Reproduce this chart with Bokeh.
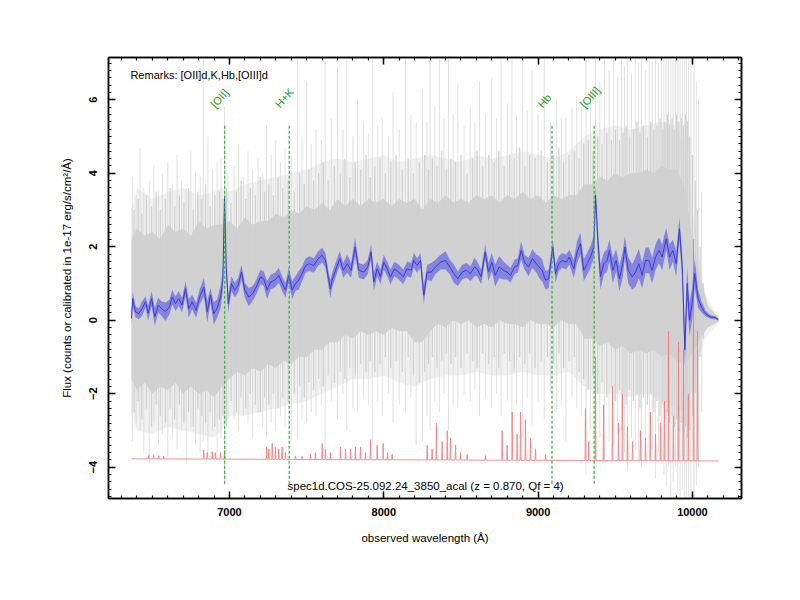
import numpy as np
from bokeh.plotting import figure
from bokeh.models import Range1d, LinearAxis, SingleIntervalTicker, Label, ColumnDataSource, CustomJSTickFormatter
from bokeh.core.properties import value
from bokeh.embed import file_html
from bokeh.resources import INLINE

# ---------------- data ----------------
blue_wl = [6365, 6373, 6391, 6412, 6434, 6456, 6473, 6495, 6516, 6538,
           6559, 6585, 6611, 6629, 6650, 6671, 6693, 6715, 6736, 6758,
           6784, 6806, 6834, 6856, 6877, 6898, 6920, 6942, 6957, 6968,
           6979, 6992, 7013, 7034, 7056, 7078, 7099, 7125, 7151, 7173,
           7201, 7222, 7244, 7266, 7294, 7320, 7341, 7363, 7384, 7406,
           7428, 7449, 7471, 7493, 7518, 7546, 7575, 7601, 7622, 7643,
           7654, 7665, 7687, 7715, 7737, 7763, 7788, 7814, 7838, 7870,
           7896, 7918, 7935, 7957, 7978, 8000, 8022, 8043, 8069, 8097,
           8126, 8151, 8177, 8194, 8216, 8238, 8259, 8281, 8307, 8335,
           8367, 8400, 8428, 8454, 8480, 8508, 8536, 8562, 8588, 8605,
           8631, 8657, 8678, 8700, 8722, 8748, 8774, 8799, 8821, 8847,
           8868, 8890, 8912, 8938, 8963, 8989, 9007, 9026, 9048, 9069,
           9095, 9113, 9134, 9156, 9182, 9203, 9231, 9253, 9274, 9296,
           9318, 9339, 9361, 9372, 9387, 9404, 9426, 9447, 9462, 9484,
           9506, 9527, 9549, 9562, 9584, 9610, 9631, 9653, 9674, 9696,
           9718, 9739, 9761, 9783, 9804, 9830, 9852, 9873, 9895, 9916,
           9934, 9951, 9966, 9981, 9998, 10015, 10037, 10059, 10085, 10117,
           10149, 10167]
blue_flux = [0.05, 0.59, 0.23, 0.18, 0.32, 0.50, 0.19, 0.59, 0.09, 0.41,
             0.32, 0.23, 0.36, 0.63, 0.45, 0.59, 0.41, 0.86, 0.32, 0.50,
             0.27, 0.63, 0.90, 0.23, 0.68, 0.18, 0.32, 0.63, 1.09, 3.35,
             1.45, 0.45, 1.00, 0.82, 0.95, 1.31, 0.82, 0.63, 0.73, 0.90,
             1.18, 1.13, 0.82, 1.04, 1.09, 1.22, 1.00, 0.82, 1.22, 0.82,
             1.00, 1.09, 1.27, 1.49, 1.54, 1.49, 1.68, 1.77, 1.63, 1.09,
             0.85, 1.09, 1.36, 1.68, 1.36, 1.54, 1.36, 1.99, 1.36, 1.31,
             1.45, 1.86, 1.04, 1.40, 1.18, 1.58, 1.40, 1.18, 1.40, 1.31,
             1.18, 1.40, 1.36, 1.63, 1.49, 1.63, 0.68, 1.31, 1.31, 1.45,
             1.58, 1.63, 1.45, 1.27, 1.13, 1.31, 1.36, 1.27, 1.45, 1.40,
             1.18, 1.86, 1.31, 1.58, 1.22, 1.45, 1.36, 1.31, 1.22, 1.45,
             1.49, 1.90, 1.58, 1.45, 1.68, 1.54, 1.45, 1.36, 1.09, 1.13,
             1.99, 1.27, 1.54, 1.63, 1.58, 1.72, 1.40, 1.86, 2.08, 1.36,
             1.54, 1.72, 1.99, 3.40, 2.17, 1.18, 1.54, 1.63, 1.90, 1.36,
             1.63, 1.13, 1.54, 1.99, 1.36, 1.18, 1.31, 1.54, 1.22, 1.63,
             1.63, 1.36, 1.72, 1.90, 1.72, 2.22, 1.72, 1.90, 1.54, 2.49,
             1.45, -0.80, 1.00, 0.00, 0.45, 1.27, 0.59, 0.36, 0.18, 0.09,
             0.07, 0.02]
blue_err = [0.15, 0.2, 0.15, 0.15, 0.2, 0.15, 0.2, 0.2, 0.25, 0.2,
            0.2, 0.25, 0.2, 0.2, 0.2, 0.2, 0.2, 0.2, 0.25, 0.2,
            0.2, 0.2, 0.25, 0.3, 0.2, 0.3, 0.25, 0.3, 0.3, 0.2,
            0.2, 0.25, 0.2, 0.2, 0.2, 0.2, 0.2, 0.25, 0.2, 0.2,
            0.2, 0.2, 0.25, 0.2, 0.2, 0.2, 0.2, 0.2, 0.2, 0.25,
            0.2, 0.25, 0.2, 0.2, 0.2, 0.2, 0.2, 0.2, 0.2, 0.2,
            0.25, 0.2, 0.2, 0.2, 0.2, 0.25, 0.2, 0.25, 0.2, 0.2,
            0.2, 0.2, 0.25, 0.2, 0.2, 0.2, 0.2, 0.2, 0.2, 0.2,
            0.2, 0.2, 0.2, 0.2, 0.2, 0.2, 0.25, 0.2, 0.25, 0.2,
            0.2, 0.25, 0.2, 0.25, 0.2, 0.2, 0.2, 0.2, 0.25, 0.2,
            0.2, 0.2, 0.25, 0.25, 0.3, 0.3, 0.25, 0.2, 0.2, 0.2,
            0.2, 0.25, 0.2, 0.25, 0.25, 0.25, 0.3, 0.3, 0.25, 0.25,
            0.2, 0.25, 0.2, 0.2, 0.2, 0.2, 0.25, 0.3, 0.3, 0.3,
            0.3, 0.3, 0.3, 0.25, 0.35, 0.35, 0.3, 0.3, 0.3, 0.35,
            0.3, 0.35, 0.35, 0.3, 0.35, 0.35, 0.4, 0.4, 0.35, 0.35,
            0.35, 0.35, 0.35, 0.35, 0.35, 0.3, 0.35, 0.3, 0.35, 0.3,
            0.35, 0.45, 0.45, 0.45, 0.45, 0.4, 0.25, 0.15, 0.08, 0.05,
            0.04, 0.03]

# raw (grey) spectra: light outer envelope
gray_wl = [6365, 6400, 6500, 6600, 6700, 6800, 6900, 6950, 7000, 7100,
           7200, 7300, 7400, 7500, 7600, 7700, 7800, 7900, 8000, 8100,
           8200, 8300, 8400, 8500, 8600, 8700, 8800, 8900, 9000, 9100,
           9200, 9300, 9400, 9500, 9600, 9700, 9800, 9900, 9960, 10000,
           10040, 10080, 10120, 10170]
gray_outer_hi = [3.0, 3.6, 3.3, 3.5, 3.6, 3.4, 3.5, 3.6, 3.5, 3.7,
                 3.8, 3.9, 4.0, 4.1, 4.3, 4.4, 4.3, 4.4, 4.5, 4.3,
                 4.4, 4.5, 4.4, 4.3, 4.5, 4.4, 4.5, 4.6, 4.5, 4.4,
                 4.6, 5.0, 5.2, 5.3, 5.2, 5.3, 5.4, 5.3, 4.5, 3.0,
                 1.8, 0.8, 0.4, 0.15]
gray_outer_lo = [-2.5, -3.0, -3.1, -2.9, -3.0, -3.1, -3.2, -3.0, -2.6, -2.6,
                 -2.5, -2.4, -2.3, -2.2, -2.0, -1.8, -1.6, -1.6, -1.5, -1.7,
                 -1.8, -1.6, -1.5, -1.5, -1.4, -1.5, -1.5, -1.4, -1.5, -1.5,
                 -1.4, -1.8, -2.0, -2.0, -2.1, -2.0, -2.2, -2.4, -2.5, -1.8,
                 -1.0, -0.5, -0.3, -0.1]

# raw spectra: dense core
core_wl = [6365, 6400, 6450, 6500, 6550, 6600, 6650, 6700, 6750, 6800,
           6850, 6900, 6950, 7000, 7050, 7100, 7150, 7200, 7250, 7300,
           7350, 7400, 7450, 7500, 7550, 7600, 7650, 7700, 7750, 7800,
           7850, 7900, 7950, 8000, 8050, 8100, 8150, 8200, 8250, 8300,
           8350, 8400, 8450, 8500, 8550, 8600, 8650, 8700, 8750, 8800,
           8850, 8900, 8950, 9000, 9050, 9100, 9150, 9200, 9250, 9300,
           9350, 9400, 9450, 9500, 9550, 9600, 9650, 9700, 9750, 9800,
           9850, 9900, 9950, 10000, 10050, 10100, 10150, 10170]
core_hi = [2.2, 2.5, 2.3, 2.4, 2.2, 2.6, 2.4, 2.5, 2.3, 2.7,
           2.5, 2.6, 2.6, 2.7, 2.5, 2.8, 2.6, 2.7, 2.7, 2.9,
           2.8, 3.0, 2.9, 3.1, 3.0, 3.2, 3.0, 3.3, 3.1, 3.3,
           3.1, 3.3, 3.2, 3.3, 3.1, 3.3, 3.2, 3.3, 3.0, 3.3,
           3.2, 3.4, 3.2, 3.3, 3.2, 3.4, 3.3, 3.4, 3.2, 3.4,
           3.3, 3.5, 3.3, 3.4, 3.2, 3.4, 3.3, 3.4, 3.4, 3.7,
           3.7, 3.9, 3.8, 4.0, 3.9, 4.0, 4.0, 4.1, 4.0, 4.2,
           4.1, 4.1, 3.6, 2.2, 1.2, 0.4, 0.15, 0.08]
core_lo = [-1.6, -1.9, -1.7, -2.0, -1.8, -1.9, -1.7, -2.0, -1.8, -2.0,
           -1.9, -2.1, -1.8, -1.6, -1.4, -1.5, -1.3, -1.4, -1.2, -1.3,
           -1.1, -1.2, -1.0, -1.0, -0.8, -0.8, -0.6, -0.6, -0.4, -0.5,
           -0.3, -0.4, -0.3, -0.4, -0.2, -0.3, -0.3, -0.6, -0.6, -0.3,
           -0.1, -0.2, 0.0, -0.1, 0.0, -0.2, -0.1, -0.2, 0.0, -0.1,
           -0.1, -0.2, 0.0, -0.1, -0.1, -0.2, 0.0, -0.1, -0.1, -0.5,
           -0.5, -0.7, -0.6, -0.8, -0.7, -0.9, -0.8, -0.9, -0.8, -1.0,
           -0.9, -1.1, -1.2, -0.9, -0.5, -0.2, -0.08, -0.05]

# medium-length noise strokes of the raw spectra
mid_wl = [6382, 6408, 6432, 6462, 6495, 6525, 6552, 6585, 6615, 6645,
          6675, 6705, 6735, 6765, 6795, 6820, 6845, 6875, 6905, 6935,
          6958, 6980, 7010, 7045, 7075, 7105, 7135, 7168, 7200, 7228,
          7255, 7285, 7315, 7345, 7380, 7420, 7455, 7485, 7515, 7545,
          7578, 7608, 7640, 7680, 7718, 7748, 7780, 7815, 7850, 7885,
          7912, 7942, 7975, 8010, 8045, 8080, 8120, 8158, 8192, 8230,
          8265, 8290, 8315, 8345, 8375, 8405, 8435, 8465, 8500, 8540,
          8575, 8605, 8640, 8680, 8715, 8745, 8780, 8815, 8845, 8880,
          8915, 8945, 8980, 9020, 9060, 9100, 9135, 9165, 9200, 9235,
          9265, 9295, 9325, 9356, 9386, 9415, 9445, 9475, 9502, 9528,
          9550, 9570, 9592, 9618, 9640, 9660, 9682, 9708, 9730, 9750,
          9770, 9790, 9808, 9822, 9838, 9852, 9868, 9882, 9898, 9912,
          9928, 9942, 9956, 9968, 9982, 10000, 10018, 10032, 10050, 10070]
mid_hi = [3.0, 3.3, 2.9, 3.4, 3.1, 3.5, 3.0, 3.3, 3.6, 3.1,
          3.4, 3.2, 3.6, 3.0, 3.5, 3.3, 3.7, 3.1, 3.4, 3.5,
          3.3, 3.6, 3.2, 3.5, 3.8, 3.3, 3.6, 3.4, 3.9, 3.5,
          3.7, 3.4, 3.9, 3.6, 3.8, 3.5, 4.0, 3.7, 4.1, 3.8,
          4.0, 4.3, 3.8, 4.2, 4.0, 4.4, 3.9, 4.3, 4.1, 4.5,
          3.9, 4.2, 4.4, 4.0, 4.3, 4.5, 4.1, 4.4, 4.0, 4.3,
          4.5, 4.1, 4.4, 4.2, 4.6, 4.1, 4.4, 4.3, 4.5, 4.0,
          4.4, 4.6, 4.2, 4.5, 4.3, 4.6, 4.2, 4.5, 4.4, 4.7,
          4.2, 4.5, 4.4, 4.6, 4.3, 4.5, 4.7, 4.3, 4.5, 4.6,
          4.4, 4.8, 4.9, 4.6, 5.0, 4.8, 5.1, 4.9, 5.2, 4.9,
          5.1, 5.3, 5.0, 5.2, 5.4, 5.1, 5.3, 5.0, 5.4, 5.2,
          5.3, 5.5, 5.2, 5.4, 5.6, 5.3, 5.5, 5.2, 5.6, 5.4,
          5.5, 5.3, 5.6, 5.4, 5.0, 4.5, 3.8, 3.0, 2.0, 1.0]
mid_lo = [-2.5, -2.2, -2.7, -2.4, -2.9, -2.3, -2.6, -2.8, -2.4, -2.7,
          -2.3, -2.8, -2.5, -2.9, -2.4, -2.6, -2.8, -2.5, -2.9, -2.7,
          -2.6, -2.9, -2.2, -2.5, -2.1, -2.4, -2.0, -2.3, -2.5, -2.1,
          -2.3, -2.0, -2.4, -2.1, -2.2, -2.0, -1.8, -2.1, -1.7, -1.9,
          -1.6, -1.8, -1.5, -1.7, -1.4, -1.6, -1.3, -1.5, -1.2, -1.4,
          -1.1, -1.4, -1.2, -1.0, -1.3, -1.1, -1.4, -1.0, -1.5, -1.7,
          -1.4, -1.2, -1.0, -1.3, -1.1, -0.9, -1.2, -1.0, -1.3, -0.9,
          -1.1, -1.3, -0.9, -1.2, -1.0, -1.3, -0.9, -1.1, -1.4, -1.0,
          -1.2, -0.9, -1.3, -1.1, -1.0, -1.2, -0.9, -1.3, -1.1, -1.0,
          -1.4, -1.6, -1.9, -1.5, -2.0, -1.7, -2.1, -1.8, -2.2, -1.9,
          -2.0, -2.3, -1.9, -2.2, -2.0, -2.4, -2.1, -2.3, -2.0, -2.5,
          -2.2, -2.6, -2.3, -2.7, -2.5, -2.8, -2.6, -2.9, -2.7, -3.0,
          -2.8, -3.1, -2.9, -3.2, -3.0, -2.6, -2.0, -1.5, -1.0, -0.5]

# long noise / sky spikes of the raw spectra
spike_wl = [6370, 6395, 6420, 6445, 6480, 6510, 6540, 6565, 6600, 6630,
            6660, 6690, 6720, 6750, 6780, 6810, 6830, 6860, 6890, 6920,
            6945, 6968, 6990, 7030, 7060, 7090, 7120, 7150, 7185, 7215,
            7240, 7270, 7300, 7330, 7360, 7400, 7440, 7470, 7500, 7530,
            7560, 7595, 7620, 7660, 7700, 7735, 7760, 7800, 7830, 7870,
            7900, 7925, 7960, 7990, 8030, 8060, 8100, 8140, 8175, 8210,
            8250, 8280, 8300, 8330, 8360, 8390, 8420, 8450, 8480, 8520,
            8560, 8590, 8620, 8660, 8700, 8730, 8760, 8800, 8830, 8860,
            8900, 8930, 8960, 9000, 9040, 9080, 9120, 9150, 9180, 9220,
            9250, 9280, 9310, 9340, 9372, 9400, 9430, 9460, 9490, 9515,
            9540, 9560, 9580, 9605, 9630, 9650, 9670, 9695, 9720, 9740,
            9760, 9780, 9800, 9815, 9830, 9845, 9860, 9875, 9890, 9905,
            9920, 9935, 9950, 9962, 9975, 9990, 10010, 10025, 10040, 10060]
spike_hi = [3.9, 3.4, 4.7, 3.6, 3.8, 4.2, 3.5, 4.0, 4.3, 3.7,
            4.5, 3.8, 3.6, 4.6, 4.0, 3.9, 7.3, 5.0, 4.1, 4.3,
            4.4, 5.8, 4.0, 4.2, 4.8, 3.9, 4.6, 4.1, 4.4, 4.0,
            5.3, 4.5, 4.9, 4.3, 4.7, 4.5, 7.3, 5.0, 6.5, 4.8,
            5.2, 4.9, 7.3, 5.5, 6.9, 5.2, 7.3, 5.0, 6.0, 5.4,
            5.1, 7.3, 5.3, 5.5, 5.0, 6.2, 5.2, 7.3, 5.6, 5.4,
            6.3, 5.4, 7.3, 5.8, 7.3, 5.5, 7.3, 5.6, 6.4, 5.3,
            5.8, 5.4, 6.5, 5.6, 6.6, 5.5, 7.3, 5.9, 7.3, 5.6,
            7.3, 5.7, 6.8, 5.6, 7.3, 5.4, 6.0, 5.5, 5.5, 5.8,
            6.1, 5.8, 7.3, 6.2, 7.3, 6.5, 7.3, 6.8, 7.3, 6.6,
            7.3, 6.9, 7.3, 6.7, 7.3, 7.0, 7.3, 6.8, 7.3, 7.1,
            7.3, 7.0, 7.3, 7.3, 7.3, 7.3, 7.3, 7.3, 7.3, 7.3,
            7.3, 7.3, 7.3, 7.3, 7.3, 7.3, 7.3, 6.5, 6.0, 3.5]
spike_lo = [-3.3, -2.9, -3.0, -3.6, -3.9, -2.8, -3.4, -3.1, -3.7, -3.2,
            -3.5, -3.0, -3.9, -2.9, -3.4, -3.6, -3.3, -3.7, -3.0, -3.8,
            -3.2, -4.5, -2.8, -2.7, -3.0, -2.6, -2.8, -3.2, -2.5, -2.9,
            -3.2, -2.8, -3.0, -2.6, -2.9, -3.3, -3.2, -2.7, -2.8, -2.5,
            -2.6, -2.3, -3.6, -2.2, -2.7, -2.0, -3.0, -2.4, -2.5, -2.1,
            -2.3, -3.4, -2.2, -2.6, -2.0, -2.8, -2.3, -2.5, -2.1, -3.4,
            -3.3, -2.6, -3.0, -2.2, -2.5, -2.0, -3.0, -2.3, -2.4, -2.0,
            -2.2, -1.9, -2.6, -2.1, -2.4, -2.0, -2.6, -2.2, -3.0, -2.3,
            -3.2, -2.1, -2.9, -2.2, -2.7, -2.0, -2.5, -2.3, -3.3, -2.1,
            -2.4, -2.6, -4.2, -3.0, -3.7, -3.2, -3.8, -3.3, -3.4, -3.1,
            -3.0, -3.6, -4.1, -3.2, -3.5, -3.8, -4.0, -3.3, -3.7, -3.5,
            -4.3, -3.6, -3.9, -4.2, -4.5, -4.0, -4.8, -4.4, -4.0, -4.6,
            -4.8, -4.6, -4.8, -4.8, -4.8, -4.8, -4.8, -4.5, -4.0, -2.5]

# error (sky) spectrum, offset below
red_base_wl = [6365, 10170]
red_base_flux = [-3.77, -3.83]
red_spike_wl = [6477, 6509, 6542, 6574, 6833, 6856, 6888, 6909, 6942, 6968,
                7240, 7255, 7277, 7298, 7319, 7341, 7363, 7428, 7471, 7525,
                7557, 7601, 7622, 7654, 7719, 7752, 7784, 7816, 7849, 7881,
                7914, 7957, 7996, 8024, 8054, 8281, 8313, 8341, 8378, 8411,
                8432, 8465, 8497, 8540, 8659, 8767, 8799, 8832, 8864, 8886,
                8918, 8951, 8983, 9048, 9307, 9328, 9372, 9424, 9482, 9521,
                9547, 9579, 9612, 9663, 9696, 9728, 9761, 9793, 9819, 9845,
                9877, 9910, 9942, 9974, 10007, 10033]
red_spike_flux = [-3.68, -3.66, -3.68, -3.70, -3.53, -3.60, -3.58, -3.60, -3.60, -3.55,
                  -3.44, -3.50, -3.35, -3.45, -3.50, -3.45, -3.60, -3.70, -3.70, -3.65,
                  -3.60, -3.35, -3.50, -3.60, -3.45, -3.50, -3.50, -3.45, -3.45, -3.60,
                  -3.25, -3.40, -3.35, -3.60, -3.65, -3.40, -3.50, -2.80, -3.30, -3.00,
                  -3.20, -3.40, -3.60, -3.65, -3.68, -3.00, -3.40, -2.50, -3.10, -2.50,
                  -2.70, -3.20, -3.50, -3.65, -2.40, -3.30, -1.00, -2.30, -1.80, -2.80,
                  -2.00, -2.90, -3.30, -3.00, -3.20, -2.50, -3.10, -2.80, -2.20, -0.30,
                  -2.60, -0.60, -0.80, -2.00, 2.20, -0.30]

# identified lines
line_names = ["[OII]", "H+K", "Hb", "[OIII]"]
line_wl = [6969, 7387, 9090, 9363]
line_top = 5.3
line_bottom = -4.45
label_y = 5.72

remarks = "Remarks: [OII]d,K,Hb,[OIII]d"
title_text = "spec1d.COS-25.092.24_3850_acal (z = 0.870, Qf = 4)"

x_start, x_end = 6216, 10318
y_start, y_end = -4.85, 7.15

FONT = "Liberation Sans"

# ---------------- figure ----------------
p = figure(width=792, height=592, x_range=Range1d(x_start, x_end), y_range=Range1d(y_start, y_end),
           output_backend="svg", toolbar_location=None,
           min_border_left=108, min_border_right=51, min_border_top=57, min_border_bottom=94)
p.grid.visible = False
p.outline_line_color = "black"
p.outline_line_width = 1.5
p.background_fill_color = "white"
p.border_fill_color = "white"

def style_axis(ax, show_labels):
    ax.axis_line_width = 1.5
    ax.major_tick_in = 7
    ax.major_tick_out = 0
    ax.minor_tick_in = 3
    ax.minor_tick_out = 0
    ax.major_tick_line_width = 1.5
    ax.minor_tick_line_width = 1.2
    ax.major_label_text_font = FONT
    ax.major_label_text_font_style = "bold"
    ax.major_label_text_font_size = "11px"
    ax.major_label_text_color = "black"
    ax.axis_label_text_font = FONT
    ax.axis_label_text_font_style = "normal"
    ax.axis_label_text_font_size = "11.5px"
    ax.axis_label_text_color = "black"
    if not show_labels:
        ax.formatter = CustomJSTickFormatter(code="return ''")
        ax.major_label_standoff = 0

p.xaxis[0].ticker = SingleIntervalTicker(interval=1000, num_minor_ticks=10)
p.yaxis[0].ticker = SingleIntervalTicker(interval=2, num_minor_ticks=10)
style_axis(p.xaxis[0], True)
style_axis(p.yaxis[0], True)
p.xaxis[0].axis_label = "observed wavelength (Å)"
p.yaxis[0].axis_label = "Flux (counts or calibrated in 1e-17 erg/s/cm²/Å)"
p.xaxis[0].major_label_standoff = 9
p.xaxis[0].axis_label_standoff = 13
p.yaxis[0].major_label_orientation = "vertical"
p.yaxis[0].major_label_standoff = 11
p.yaxis[0].axis_label_standoff = 14

top_ax = LinearAxis(ticker=SingleIntervalTicker(interval=1000, num_minor_ticks=10))
right_ax = LinearAxis(ticker=SingleIntervalTicker(interval=2, num_minor_ticks=10))
style_axis(top_ax, False)
style_axis(right_ax, False)
p.add_layout(top_ax, "above")
p.add_layout(right_ax, "right")

# raw spectra (grey)
p.varea(x=gray_wl, y1=gray_outer_lo, y2=gray_outer_hi, fill_color="#f0f0f0", fill_alpha=1.0)
p.segment(x0=spike_wl, y0=spike_lo, x1=spike_wl, y1=spike_hi, line_color="#d6d6d6", line_width=1, line_alpha=0.75)
p.segment(x0=mid_wl, y0=mid_lo, x1=mid_wl, y1=mid_hi, line_color="#cdcdcd", line_width=1.3, line_alpha=0.9)
p.varea(x=core_wl, y1=core_lo, y2=core_hi, fill_color="#d0d0d0", fill_alpha=0.95)

# error spectrum (red)
rs = sorted(zip(red_spike_wl, red_spike_flux))
rx = [red_base_wl[0]]
ry = [red_base_flux[0]]
for w, f in rs:
    b = float(np.interp(w, red_base_wl, red_base_flux))
    rx += [w - 3, w, w + 3]
    ry += [b, f, b]
rx.append(red_base_wl[1])
ry.append(red_base_flux[1])
p.line(rx, ry, line_color="#f08080", line_width=1, line_alpha=0.85)

# smoothed spectrum with band (blue)
bw = np.array(blue_wl, dtype=float)
bf = np.array(blue_flux, dtype=float)
be = np.array(blue_err, dtype=float)
p.varea(x=bw, y1=bf - be, y2=bf + be, fill_color="#7272e4", fill_alpha=0.8)
p.line(bw, bf, line_color="#3c3cd6", line_width=1)

# identified lines
p.segment(x0=line_wl, y0=[line_bottom] * len(line_wl), x1=line_wl, y1=[line_top] * len(line_wl),
          line_color="#33b033", line_width=1.2, line_dash="3 2")
lab = ColumnDataSource(dict(x=[w - 50 for w in line_wl], y=[label_y] * len(line_wl), t=line_names))
p.text(x="x", y="y", text="t", source=lab, angle=0.84, text_align="left", text_baseline="bottom",
       text_color="#1a9a1a", text_font=value(FONT), text_font_size="11px")

p.add_layout(Label(x=6358, y=6.68, text=remarks, text_font=FONT, text_font_size="11px",
                   text_baseline="middle", text_color="black"))
p.add_layout(Label(x=7376, y=-4.51, text=title_text, text_font=FONT, text_font_size="11.5px",
                   text_baseline="middle", text_color="black"))

open("out.html", "w").write(file_html(p, INLINE))
